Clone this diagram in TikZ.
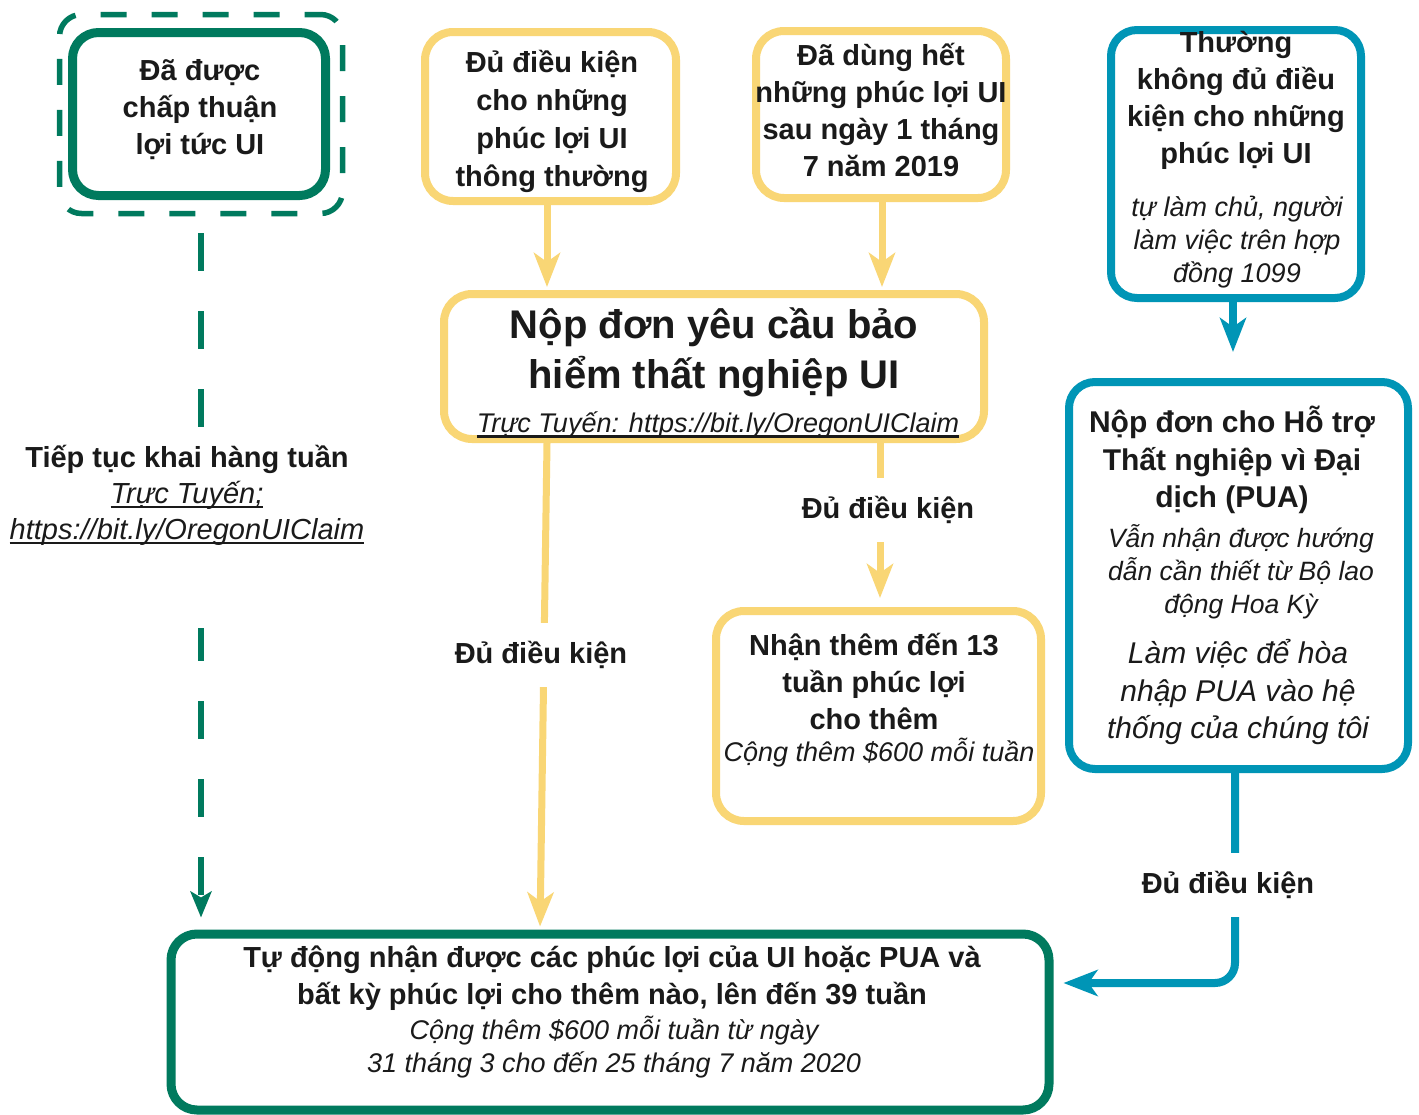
\documentclass[tikz,border=0pt]{standalone}
\usepackage{fontspec}
\setmainfont{Liberation Sans}
\usetikzlibrary{arrows.meta}
\definecolor{ugreen}{RGB}{0,122,94}
\definecolor{uyellow}{RGB}{249,214,117}
\definecolor{ublue}{RGB}{0,149,182}
\definecolor{utext}{RGB}{26,26,26}
\newcommand\myul[1]{\setbox0\hbox{#1}\rlap{\rule[-5pt]{\wd0}{2.2pt}}\box0}
\begin{document}
\begin{tikzpicture}[x=1pt,y=-1pt,
  every node/.style={inner sep=0pt, text=utext},
  gbox/.style={draw=ugreen, line width=9pt, rounded corners=26pt, fill=white},
  gdashbox/.style={draw=ugreen, line width=5.5pt, rounded corners=22pt, fill=white, dash pattern=on 26pt off 25pt, dash phase=10pt},
  ybox/.style={draw=uyellow, line width=8pt, rounded corners=28pt, fill=white},
  bbox/.style={draw=ublue, line width=8pt, rounded corners=26pt, fill=white},
  tbold/.style={font=\fontsize{29}{37}\selectfont\bfseries, align=center},
  tital/.style={font=\fontsize{27}{33}\selectfont\itshape, align=center},
  lab/.style={font=\fontsize{29}{37}\selectfont\bfseries, fill=white, minimum height=64pt, inner xsep=8pt},
  yconn/.style={draw=uyellow, line width=7pt, -{Stealth[length=34pt,width=26pt,inset=9pt]}},
  bconn/.style={draw=ublue, line width=8pt, -{Stealth[length=34pt,width=26pt,inset=9pt]}},
  gconn/.style={draw=ugreen, line width=5.5pt, dash pattern=on 38pt off 40pt, dash phase=61pt, -{Stealth[length=26pt,width=21pt,inset=6pt]}},
]
\useasboundingbox[fill=white] (0,0) rectangle (1419,1114);

% boxes
\node[gdashbox, minimum width=283pt, minimum height=199pt] (Aout) at (201,114) {};
\node[gbox, minimum width=253pt, minimum height=163pt] (A) at (199,114) {};
\node[ybox, minimum width=251pt, minimum height=169pt] (B) at (550.5,116.5) {};
\node[ybox, minimum width=250pt, minimum height=167pt] (C) at (881,114.5) {};
\node[bbox, minimum width=250pt, minimum height=268pt] (D) at (1236,164) {};
\node[bbox, minimum width=339pt, minimum height=387pt] (E) at (1238.5,575.5) {};
\node[ybox, minimum width=540pt, minimum height=145pt] (F) at (714,366.5) {};
\node[ybox, minimum width=325pt, minimum height=210pt] (G) at (878.5,716) {};
\node[gbox, minimum width=878pt, minimum height=176pt] (H) at (610,1022) {};

% connectors
\draw[gconn, shorten >=12pt] (Aout.south) -- (Aout.south |- H.north);
\draw[yconn, shorten >=3pt] ([xshift=-3.5pt]B.south) -- ([xshift=-3.5pt]B.south |- F.north);
\draw[yconn, shorten >=3pt] ([xshift=1pt]C.south) -- ([xshift=1pt]C.south |- F.north);
\draw[yconn, shorten >=3pt] ([xshift=-167pt]F.south) -- ([xshift=-70pt]H.north);
\draw[yconn, shorten >=9pt] ([xshift=1.5pt]G.north |- F.south) -- ([xshift=1.5pt]G.north);
\draw[bconn, shorten >=26pt] ([xshift=-3pt]D.south) -- ([xshift=-3pt]D.south |- E.north);
\draw[bconn, rounded corners=20pt] ([xshift=-3.5pt]E.south) |- ([xshift=10pt,yshift=39pt]H.east);

% texts
\node[tbold] (tA) at (200,110) {Đã được\\chấp thuận\\lợi tức UI};
\node[tbold, font=\fontsize{29}{38}\selectfont\bfseries] (tB) at (552,121) {Đủ điều kiện\\cho những\\phúc lợi UI\\thông thường};
\node[tbold] (tC) at (881,110) {Đã dùng hết\\những phúc lợi UI\\sau ngày 1 tháng\\7 năm 2019};
\node[tbold] (tD1) at (1236,100) {Thường\\không đủ điều\\kiện cho những\\phúc lợi UI};
\node[tital] (tD2) at (1237,242) {tự làm chủ, người\\làm việc trên hợp\\đồng 1099};
\node[tbold, font=\fontsize{30}{37.5}\selectfont\bfseries] (tE1) at (1232,460) {Nộp đơn cho Hỗ trợ\\Thất nghiệp vì Đại\\dịch (PUA)};
\node[tital, font=\fontsize{26.5}{33}\selectfont\itshape] (tE2) at (1241,572) {Vẫn nhận được hướng\\dẫn cần thiết từ Bộ lao\\động Hoa Kỳ};
\node[tital, font=\fontsize{30}{37.5}\selectfont\itshape] (tE3) at (1238,692) {Làm việc để hòa\\nhập PUA vào hệ\\thống của chúng tôi};
\node[tbold, font=\fontsize{40}{50}\selectfont\bfseries] (tF1) at (714,352) {Nộp đơn yêu cầu bảo\\hiểm thất nghiệp UI};
\node[tital] (tF2) at (718,425) {\myul{Trực Tuyến: https://bit.ly/OregonUIClaim}};
\node[tbold] (tG1) at (874,681) {Nhận thêm đến 13\\tuần phúc lợi\\cho thêm};
\node[tital] (tG2) at (879,753) {Cộng thêm \$600 mỗi tuần};
\node[tbold] (tH1) at (612,978) {Tự động nhận được các phúc lợi của UI hoặc PUA và\\bất kỳ phúc lợi cho thêm nào, lên đến 39 tuần};
\node[tital] (tH2) at (614,1047) {Cộng thêm \$600 mỗi tuần từ ngày\\31 tháng 3 cho đến 25 tháng 7 năm 2020};

% labels
\fill[white] (48,428) rectangle (355,628);
\node[tbold, font=\fontsize{29}{36}\selectfont\bfseries] (tL) at (187,495) {Tiếp tục khai hàng tuần\\\myul{\mdseries\itshape Trực Tuyến;}\\\myul{\mdseries\itshape https://bit.ly/OregonUIClaim}};
\node[lab] (L1) at (541,655) {Đủ điều kiện};
\node[lab] (L2) at (888,510) {Đủ điều kiện};
\node[lab] (L3) at (1228,885) {Đủ điều kiện};
\end{tikzpicture}
\end{document}
